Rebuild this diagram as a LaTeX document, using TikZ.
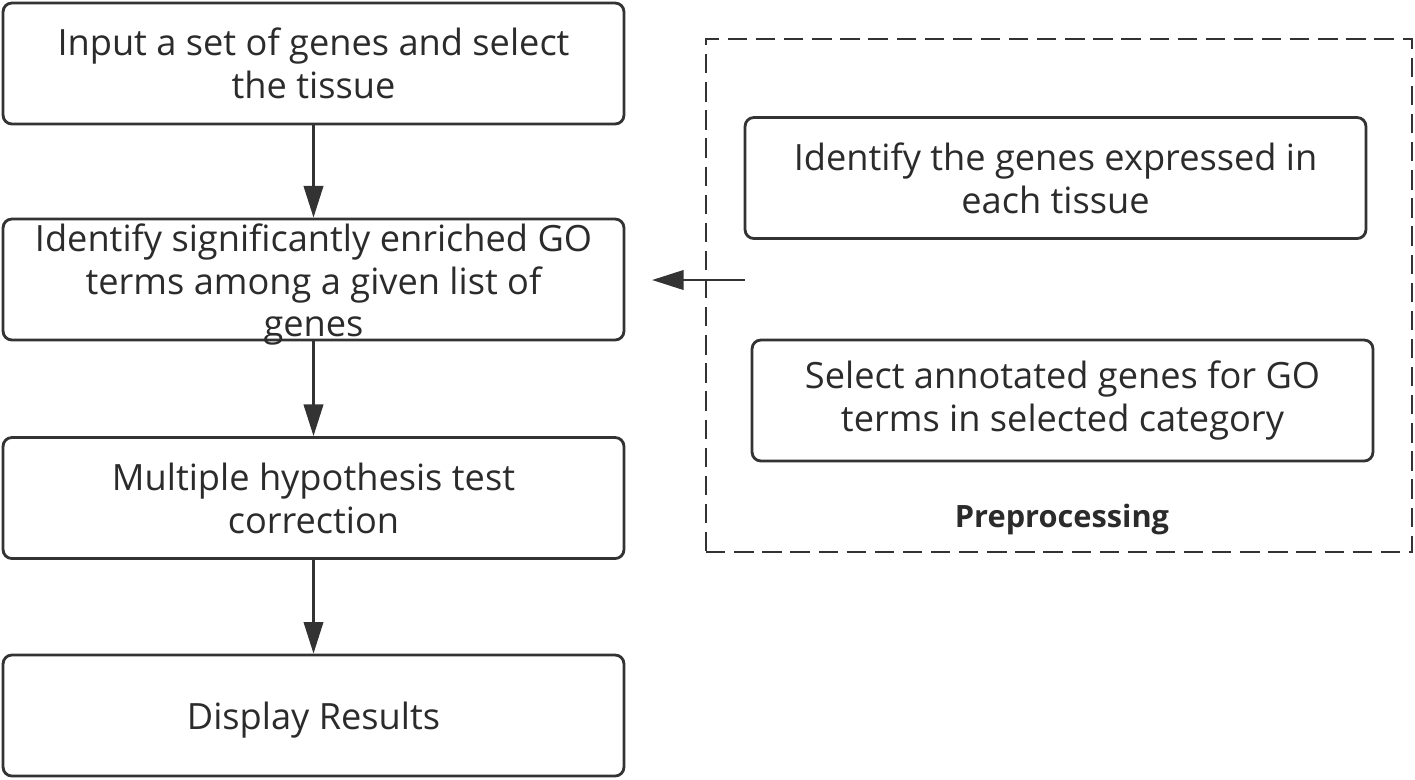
\documentclass[tikz,border=0pt]{standalone}
\usepackage{fontspec}
\setmainfont{Open Sans}
\usetikzlibrary{arrows.meta}
\definecolor{flowline}{HTML}{333333}
\definecolor{flowtext}{HTML}{2B2B2B}
\newcommand{\boxfont}{\fontsize{20.6}{24.4}\selectfont}

\begin{document}
\begin{tikzpicture}[x=0.02cm, y=-0.02cm,
    stepbox/.style={rectangle, draw=flowline, line width=1.6pt, rounded corners=5pt,
        minimum width=12.42cm, minimum height=2.42cm, align=center,
        text=flowtext, font=\boxfont},
    flowarrow/.style={-{Triangle[length=18pt, width=11pt]}, draw=flowline, line width=1.6pt}]
    \useasboundingbox (0,0) rectangle (1415,779);

    % Main pipeline
    \node[stepbox] (input) at (313.5,63.5) {Input a set of genes and select\\the tissue};
    \node[stepbox, label={[align=center, text=flowtext, font=\boxfont, yshift=-0.1cm]center:Identify significantly enriched GO\\terms among a given list of\\genes}] (enrich) at (313.5,279.5) {};
    \node[stepbox] (correct) at (313.5,498) {Multiple hypothesis test\\correction};
    \node[stepbox, text depth=0pt] (display) at (313.5,715.5) {Display Results};
    \draw[flowarrow] (input) -- (enrich);
    \draw[flowarrow] (enrich) -- (correct);
    \draw[flowarrow] (correct) -- (display);

    % Preprocessing
    \node[rectangle, draw=flowline, line width=1.6pt, dash pattern=on 11pt off 5pt,
        minimum width=14.12cm, minimum height=10.26cm] (prep) at (1059,295.5) {};
    \node[stepbox] (expressed) at (1055.5,178) {Identify the genes expressed in\\each tissue};
    \node[stepbox] (annotated) at (1062.5,400.5) {Select annotated genes for GO\\terms in selected category};
    \node[font=\fontsize{17.5}{21}\selectfont\bfseries, text=flowtext] (preplabel) at (1062,519) {Preprocessing};
    \coordinate (prepout) at (745,280);
    \coordinate (prepin) at (652,280);
    \draw[flowarrow] (prepout) -- (prepin);
\end{tikzpicture}
\end{document}
